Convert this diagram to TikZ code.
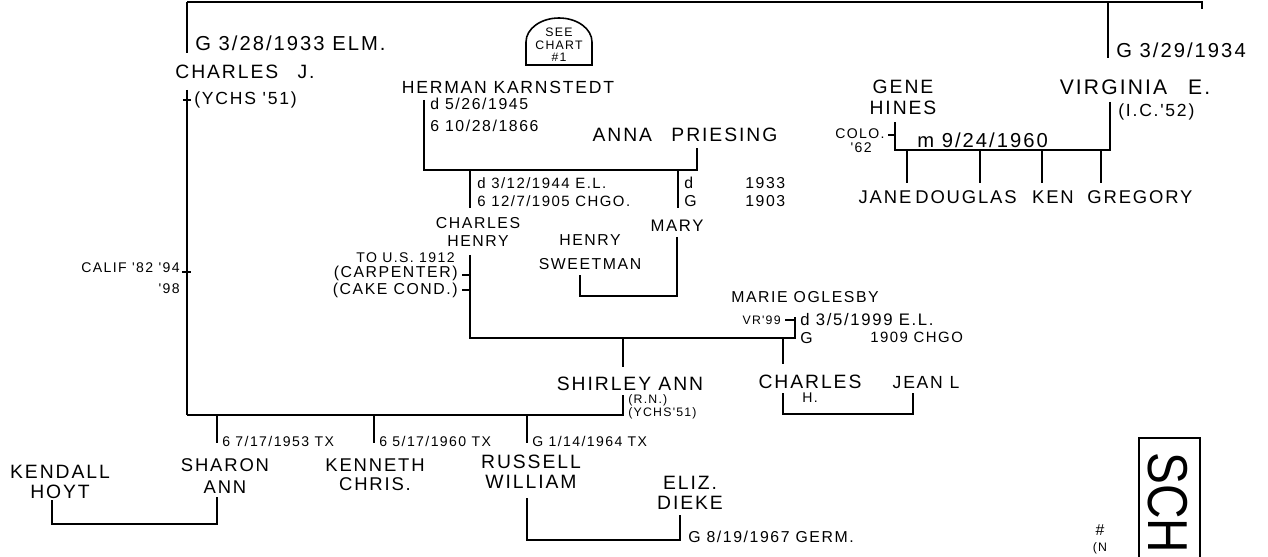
\documentclass[tikz,border=0pt]{standalone}
\usepackage{fontspec}
\newfontfamily\hand{Liberation Sans}[LetterSpace=10]
\newfontfamily\spinefont{Liberation Sans}
\newcommand{\hw}[2]{\hand\fontsize{#1}{#2}\selectfont}
\usetikzlibrary{positioning}
\tikzset{
  line/.style={line width=1.1pt},
  tick/.style={line width=0.9pt},
  who/.style={font=\hw{11}{11.5}, inner sep=0pt, align=center},
  note/.style={font=\hw{9}{10}, inner sep=0pt, anchor=west},
}

\begin{document}
\begin{tikzpicture}[x=0.02cm, y=-0.02cm]
\useasboundingbox (0,0) rectangle (1268,557);

% Top bar and Charles J.
\coordinate (barL) at (187,2);
\coordinate (barR) at (1202,2);
\coordinate (virgTop) at (1108,2);
\draw[line] (barL) -- (barR) -- ++(0,7);
\draw[line] (barL) -- ++(0,51);
\node[note, font=\hw{11.5}{12}] (cjBorn) at (195,43) {G 3/28/1933 ELM.};
\node[who] (charlesJ) at (245,72) {CHARLES\quad J.};
\node[note, font=\hw{10}{11}] (cjSchool) at (194,100) {(YCHS '51)};
\coordinate (cjLow) at (187,90);
\coordinate (sibL) at (187,415);
\draw[line] (cjLow) -- (sibL);
\draw[tick] (183,100) -- (191,100);
\draw[tick] (182,272) -- (191,272);
\node[note, anchor=east, align=right, font=\hw{8}{12}] (cjCalif) at (180,278) {CALIF '82 '94\\'98};

% Virginia and Gene Hines
\draw[line] (virgTop) -- ++(0,56);
\node[note, font=\hw{11.5}{12}] (virgBorn) at (1116,50) {G 3/29/1934};
\node[who, font=\hw{12}{12}] (virginia) at (1135,87) {VIRGINIA\quad E.};
\node[note, font=\hw{10}{11}] (virgSchool) at (1118,112) {(I.C.'52)};
\node[who, font=\hw{11}{12}] (gene) at (903,97) {GENE\\HINES};
\coordinate (virgBase) at (1110,102);
\coordinate (geneBase) at (895,122);
\coordinate (marrL) at (895,150);
\coordinate (marrR) at (1110,150);
\draw[line] (virgBase) -- (marrR) -- (marrL) -- (geneBase);
\draw[tick] (888,135) -- (895,135);
\node[note, anchor=east, font=\hw{8}{9}] (colo) at (885,134) {COLO.};
\node[note, anchor=east, font=\hw{8}{9}] (colo62) at (872,148) {'62};
\node[note, font=\hw{11.5}{12}] (marrDate) at (917,140) {m 9/24/1960};
\foreach \cx/\kx/\kid in {885/907/JANE, 966/980/DOUGLAS, 1053/1042/KEN, 1140/1101/GREGORY} {
  \coordinate (drop\kid) at (\kx,183);
  \draw[line] (drop\kid |- marrL) -- (drop\kid);
  \node[who, font=\hw{10.5}{11}] (kid\kid) at (\cx,197) {\kid};
}

% Herman Karnstedt and Anna Priesing
\node[who, font=\hw{10}{11}] (herman) at (508,87) {HERMAN KARNSTEDT};
\draw[tick] (526,65) -- (526,42) arc[start angle=180, end angle=360, x radius=33, y radius=24] -- (592,65) -- cycle;
\node[font=\hw{7}{7}, align=center, inner sep=0pt] (seeChart) at (559,45) {SEE\\CHART\\\#1};
\coordinate (hermBase) at (424,100);
\coordinate (annaBase) at (697,148);
\coordinate (hermBarL) at (424,170);
\draw[line] (hermBase) -- (hermBarL) -| (annaBase);
\node[note] (hermD) at (430,104) {d 5/26/1945};
\node[note] (hermB) at (430,126) {6 10/28/1866};
\node[who] (anna) at (685,135) {ANNA\quad PRIESING};

\coordinate (chTop) at (470,208);
\coordinate (maryTop) at (678,208);
\draw[line] (chTop |- hermBarL) -- (chTop);
\draw[line] (maryTop |- hermBarL) -- (maryTop);
\node[note, font=\hw{8.5}{9}] (chD) at (477,183) {d 3/12/1944 E.L.};
\node[note, font=\hw{8.5}{9}] (chB) at (477,201) {6 12/7/1905 CHGO.};
\node[note] (maryD) at (684,183) {d};
\node[note] (maryB) at (684,201) {G};
\node[note] (maryDy) at (745,183) {1933};
\node[note] (maryBy) at (745,201) {1903};

\node[who, font=\hw{9}{10}] (charlesH) at (478,232) {CHARLES\\HENRY};
\node[who, font=\hw{9.5}{10}] (mary) at (677,226) {MARY};
\node[who, font=\hw{9}{13.6}] (sweetman) at (590,252) {HENRY\\SWEETMAN};
\coordinate (maryBase) at (677,237);
\coordinate (sweetBase) at (580,275);
\draw[line] (maryBase) -- ++(0,59) -| (sweetBase);

% Charles Henry and Marie Oglesby
\coordinate (chBase) at (470,255);
\coordinate (marieBase) at (795,317);
\coordinate (chBarL) at (470,338);
\draw[line] (chBase) -- (chBarL) -| (marieBase);
\draw[tick] (462,275) -- (470,275);
\draw[tick] (462,290) -- (470,290);
\node[note, anchor=east, font=\hw{8}{9}] (chUS) at (455,258) {TO U.S. 1912};
\node[note, anchor=east] (chJob) at (458,273) {(CARPENTER)};
\node[note, anchor=east] (chJobB) at (458,290) {(CAKE COND.)};
\node[who, font=\hw{9}{10}] (marie) at (805,297) {MARIE OGLESBY};
\draw[tick] (785,320) -- (795,320);
\node[note, anchor=east, font=\hw{7}{8}] (marieVR) at (781,320) {VR'99};
\node[note, font=\hw{9.5}{10}] (marieD) at (800,320) {d 3/5/1999 E.L.};
\node[note] (marieB) at (800,338) {G};
\node[note, font=\hw{8.5}{9}] (marieBy) at (870,337) {1909 CHGO};

\coordinate (shirTop) at (623,367);
\coordinate (chHTop) at (783,364);
\draw[line] (shirTop |- chBarL) -- (shirTop);
\draw[line] (chHTop |- chBarL) -- (chHTop);
\node[who] (shirley) at (630,384) {SHIRLEY ANN};
\node[who] (charlesHjr) at (810,382) {CHARLES};
\node[who, font=\hw{8}{9}, below=2pt of charlesHjr] (charlesHjrH) {H.};
\node[who, font=\hw{10}{11}] (jean) at (926,383) {JEAN L};
\coordinate (chHBase) at (783,393);
\coordinate (jeanBase) at (913,393);
\draw[line] (chHBase) -- ++(0,21) -| (jeanBase);

% Shirley Ann and the children
\coordinate (shirBase) at (623,395);
\draw[line] (shirBase) -- (shirBase |- sibL) -- (sibL);
\node[note, font=\hw{7}{8}] (shirRN) at (628,400) {(R.N.)};
\node[note, font=\hw{7}{8}] (shirSchool) at (628,413) {(YCHS'51)};
\foreach \kx/\kid in {217/sharon, 374/kenneth, 527/russell} {
  \coordinate (\kid Top) at (\kx,443);
  \draw[line] (\kid Top |- sibL) -- (\kid Top);
}
\node[note, font=\hw{8}{9}] (sharonB) at (222,441) {6 7/17/1953 TX};
\node[note, font=\hw{8}{9}] (kennethB) at (379,441) {6 5/17/1960 TX};
\node[note, font=\hw{8}{9}] (russellB) at (532,441) {G 1/14/1964 TX};

\node[who, font=\hw{10.5}{12.5}] (sharon) at (225,476) {SHARON\\ANN};
\node[who] (kendall) at (60,482) {KENDALL\\HOYT};
\node[who, font=\hw{10.5}{10.8}] (kenneth) at (375,475) {KENNETH\\CHRIS.};
\node[who] (russell) at (531,472) {RUSSELL\\WILLIAM};
\node[who] (eliz) at (690,493) {ELIZ.\\DIEKE};
\coordinate (kendallBase) at (52,500);
\coordinate (sharonBase) at (217,497);
\draw[line] (kendallBase) -- ++(0,24) -| (sharonBase);
\coordinate (russellBase) at (527,498);
\coordinate (elizBase) at (680,515);
\draw[line] (russellBase) -- ++(0,42) -| (elizBase);
\node[note] (russellM) at (688,537) {G 8/19/1967 GERM.};

% Spine label
\draw[line width=1.6pt] (1139,600) -- (1139,438) -- (1200,438) -- (1200,600);
\node[font=\spinefont\fontsize{32}{32}\selectfont, rotate=-90, anchor=west, inner sep=0pt] (spine) at (1168,452) {\scalebox{0.85}[1]{SCH}};
\node[font=\hw{9}{9}, inner sep=0pt] (hashMark) at (1100,530) {\#};
\node[font=\hw{7}{7}, inner sep=0pt, anchor=north] (hashNo) at (1100,542) {(N};
\end{tikzpicture}
\end{document}
